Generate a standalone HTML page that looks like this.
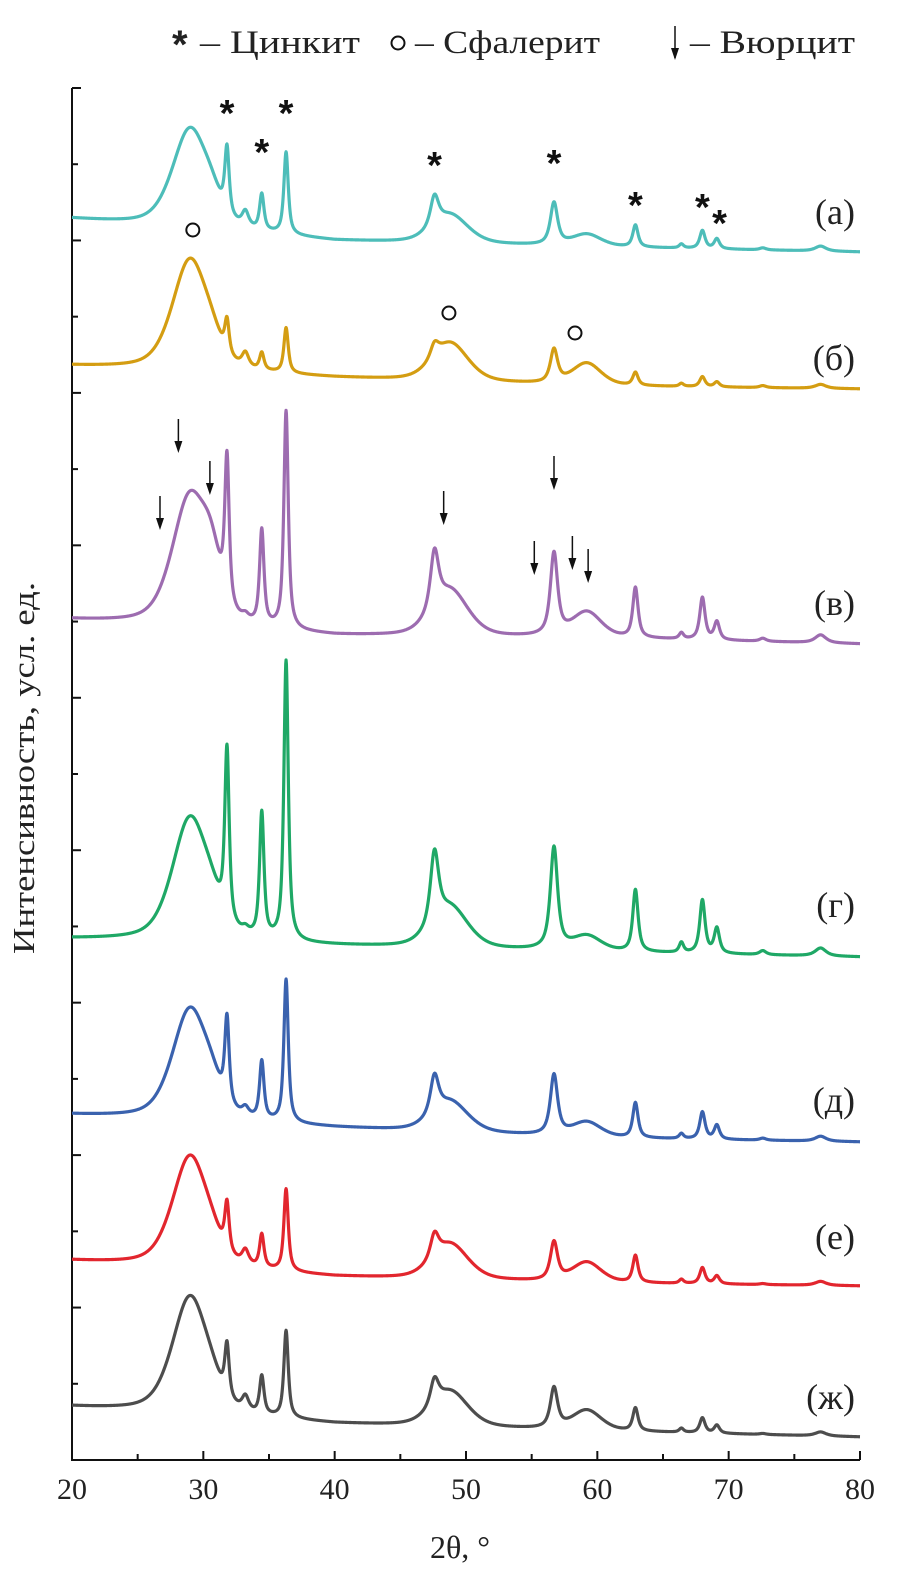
<!DOCTYPE html>
<html><head><meta charset="utf-8"><style>
html,body{margin:0;padding:0;background:#fff;}
svg{display:block;font-family:"Liberation Serif","DejaVu Serif",serif;}
</style></head><body>
<svg id="chart" width="900" height="1583" viewBox="0 0 900 1583" xmlns="http://www.w3.org/2000/svg">
<g id="legend" font-size="33" fill="#222">
  <text x="172" y="58" font-family="Liberation Sans,sans-serif" font-size="40" font-weight="bold">*</text>
  <text x="200" y="53" textLength="160" lengthAdjust="spacingAndGlyphs">– Цинкит</text>
  <circle cx="398" cy="43" r="6.5" fill="none" stroke="#111" stroke-width="2"/>
  <text x="415" y="53" textLength="185" lengthAdjust="spacingAndGlyphs">– Сфалерит</text>
  <g><line x1="675" y1="26" x2="675" y2="58" stroke="#111" stroke-width="1.5"/><path d="M671,48 L675,60 L679,48 Z" fill="#111"/></g>
  <text x="690" y="53" textLength="165" lengthAdjust="spacingAndGlyphs">– Вюрцит</text>
</g>
<g id="axes"></g>
<g id="series"></g>
<g id="marks"></g>
<text x="34" y="768" transform="rotate(-90 34 768)" text-anchor="middle" font-size="31" textLength="372" lengthAdjust="spacingAndGlyphs" fill="#222">Интенсивность, усл. ед.</text>
<text x="460" y="1558" text-anchor="middle" font-size="32" fill="#222">2θ, °</text>
</svg>
<script>
// ---- data ----
const peakPos   = [29.0, 30.6, 31.8, 33.2, 34.45, 36.3, 47.6, 48.8, 56.7, 59.2, 62.9, 66.4, 68.0, 69.1, 72.6, 77.0];
const peakWidth = [1.6, 0.8, 0.2, 0.3, 0.2, 0.2, 0.38, 1.6, 0.33, 1.3, 0.24, 0.2, 0.24, 0.24, 0.3, 0.5];
const peakEta   = [0.5, 0.2, 0.8, 0.8, 0.8, 0.8, 0.8, 0.4, 0.8, 0.4, 0.8, 0.8, 0.8, 0.8, 0.8, 0.8];
const baseX = [20, 40, 60, 80];
const seriesNames  = ["(а)", "(б)", "(в)", "(г)", "(д)", "(е)", "(ж)"];
const seriesColors = ["#4dbdb9", "#d49d12", "#9d6cb0", "#1fa866", "#3a62ae", "#e2262e", "#4d4d4d"];
const baseA = [1241, 1219, 1213, 1208];
const baseB = [1094, 1082, 1074, 1071];
const baseC = [840, 824, 822, 816];
const baseD = [521, 514, 508, 503];
const baseE = [345, 332, 322, 318];
const baseF = [199, 183, 177, 174];
const baseG = [53, 36, 29, 23];
const ampA = [100, 12, 66, 15, 36, 82, 30, 28, 42, 12, 22, 4, 18, 10, 2, 5];
const ampB = [112, 10, 33, 14, 17, 45, 14, 38, 33, 22, 13, 3, 10, 5, 2, 4];
const ampC = [132, 38, 145, 5, 95, 218, 58, 45, 82, 25, 50, 6, 42, 18, 3, 8];
const ampD = [124, 13, 172, 5, 125, 280, 72, 40, 102, 15, 62, 10, 53, 25, 4, 8];
const ampE = [112, 13, 85, 8, 58, 143, 38, 30, 60, 15, 35, 5, 27, 14, 2, 5];
const ampF = [112, 8, 48, 14, 33, 82, 24, 35, 38, 20, 27, 4, 16, 8, 1, 4];
const ampG = [118, 8, 52, 14, 38, 87, 26, 35, 40, 20, 23, 4, 15, 8, 1, 4];
const labelY = [1248, 1102, 857, 555, 360, 223, 63];
const xTicks = [20, 30, 40, 50, 60, 70, 80];
const zinciteMarks = [[31.8, 1352], [36.3, 1352], [34.45, 1313], [47.6, 1300], [56.7, 1302], [62.9, 1260], [68.0, 1258], [69.3, 1242]];
const sphaleriteMarks = [[29.2, 1230], [48.7, 1147], [58.3, 1127]];
const wurtziteMarks = [[28.1, 1007], [30.5, 965], [26.7, 930], [48.3, 935], [56.7, 970], [55.2, 885], [58.1, 890], [59.3, 877]];

// ---- scales ----
const X0 = 72, X1 = 860, Y0 = 1460, YT = 88;
const xs = v => X0 + (v - 20) / 60 * (X1 - X0);
const ys = v => Y0 - v;
const NS = "http://www.w3.org/2000/svg";
function mk(tag, attrs, parent) { const e = document.createElementNS(NS, tag); for (const k in attrs) e.setAttribute(k, attrs[k]); parent.appendChild(e); return e; }

const axes = document.getElementById('axes');
const ax = mk('path', { d: `M${X0},${YT} L${X0},${Y0} L${X1},${Y0}`, fill: 'none', stroke: '#111', 'stroke-width': 2 }, axes);


for (let i = 0; i <= 18; i++) {
  const y = YT + i * (Y0 - YT) / 18;
  const t = mk('line', { x1: X0, y1: y, x2: X0 + (i % 2 === 0 ? 9 : 6), y2: y, stroke: '#111', 'stroke-width': 2 }, axes);
  
  
}
for (let v = 20; v <= 80; v += 5) {
  const t = mk('line', { x1: xs(v), y1: Y0, x2: xs(v), y2: Y0 - (v % 10 === 0 ? 9 : 6), stroke: '#111', 'stroke-width': 2 }, axes);
  
  
}
xTicks.forEach(v => {
  const t = mk('text', { x: xs(v), y: 1499, 'text-anchor': 'middle', 'font-size': 30, fill: '#222' }, axes);
  t.textContent = v;
  
  
});

function baseAt(b, x) {
  for (let i = 0; i < baseX.length - 1; i++) {
    if (x <= baseX[i + 1]) { const f = (x - baseX[i]) / (baseX[i + 1] - baseX[i]); return b[i] + f * (b[i + 1] - b[i]); }
  }
  return b[b.length - 1];
}
function profile(amps, x) {
  let s = 0;
  for (let k = 0; k < peakPos.length; k++) {
    const d = (x - peakPos[k]) / peakWidth[k], d2 = d * d;
    s += amps[k] * (peakEta[k] / (1 + d2) + (1 - peakEta[k]) * Math.exp(-0.693 * d2));
  }
  return s;
}
const bases = [baseA, baseB, baseC, baseD, baseE, baseF, baseG];
const amps = [ampA, ampB, ampC, ampD, ampE, ampF, ampG];
const sg = document.getElementById('series');
const slug = ['a', 'b', 'v', 'g', 'd', 'e', 'zh'];
for (let s = 0; s < 7; s++) {
  let d = '';
  for (let x = 20; x <= 80.0001; x += 0.025) {
    const v = baseAt(bases[s], x) + profile(amps[s], x);
    d += (d ? 'L' : 'M') + xs(x).toFixed(2) + ',' + ys(v).toFixed(2);
  }
  const p = mk('path', { d: d, fill: 'none', stroke: seriesColors[s], 'stroke-width': 3.2, 'stroke-linejoin': 'round' }, sg);
  
  
  const t = mk('text', { x: 855, y: ys(labelY[s]) + 12, 'text-anchor': 'end', 'font-size': 36, fill: '#222' }, sg);
  t.textContent = seriesNames[s];
  
  
}
const mg = document.getElementById('marks');
zinciteMarks.forEach(m => {
  const t = mk('text', { x: xs(m[0]), y: ys(m[1]) + 18, 'text-anchor': 'middle', 'font-size': 38, 'font-family': 'Liberation Sans,sans-serif', 'font-weight': 'bold', fill: '#111' }, mg);
  t.textContent = '*';
  
  
});
sphaleriteMarks.forEach(m => {
  const c = mk('circle', { cx: xs(m[0]), cy: ys(m[1]), r: 6.5, fill: 'none', stroke: '#111', 'stroke-width': 2 }, mg);
  
  
});
wurtziteMarks.forEach(m => {
  const x = xs(m[0]), yb = ys(m[1]);
  const g = mk('g', {}, mg);
  
  
  mk('line', { x1: x, y1: yb - 34, x2: x, y2: yb - 4, stroke: '#111', 'stroke-width': 1.5 }, g);
  mk('path', { d: `M${x - 4},${yb - 12} L${x},${yb} L${x + 4},${yb - 12} Z`, fill: '#111' }, g);
});
</script>
</body></html>
